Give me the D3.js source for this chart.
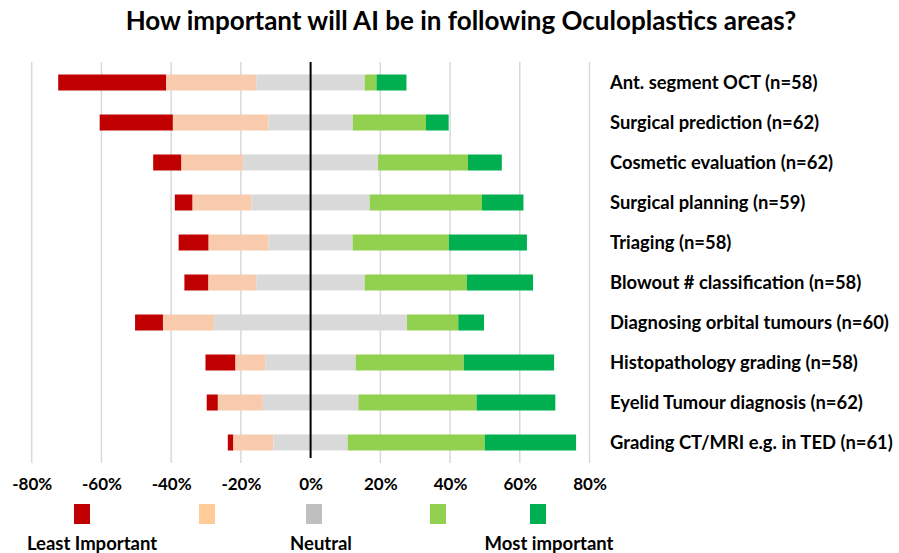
<!DOCTYPE html>
<html><head><meta charset="utf-8">
<script src="https://cdn.jsdelivr.net/npm/d3@7"></script>
<style>body{margin:0;background:#fff}svg{display:block}text{font-family:Lato,"Open Sans",sans-serif;font-weight:bold;fill:#000}</style>
</head><body><svg id="c" width="899" height="553"></svg>
<script>
const title = "How important will AI be in following Oculoplastics areas?";
const categories = ["Ant. segment OCT (n=58)","Surgical prediction (n=62)","Cosmetic evaluation (n=62)","Surgical planning (n=59)","Triaging (n=58)","Blowout # classification (n=58)","Diagnosing orbital tumours (n=60)","Histopathology grading (n=58)","Eyelid Tumour diagnosis (n=62)","Grading CT/MRI e.g. in TED (n=61)"];
const least   = [31.0, 21.0,  8.1,  5.1,  8.6,  6.9,  8.0,  8.6,  3.2,  1.6];
const low     = [25.9, 27.4, 17.7, 16.9, 17.2, 13.8, 14.7,  8.6, 12.9, 11.5];
const neutral = [31.0, 24.2, 38.7, 33.9, 24.1, 31.0, 55.3, 25.9, 27.4, 21.3];
const high    = [ 3.4, 21.0, 25.8, 32.2, 27.6, 29.3, 14.7, 31.0, 33.9, 39.3];
const most    = [ 8.6,  6.5,  9.7, 11.9, 22.4, 19.0,  7.4, 25.9, 22.6, 26.2];
const ticks = [-80,-60,-40,-20,0,20,40,60,80];
const seriesNames = ["Least Important","","Neutral","","Most important"];
const barColors = ["#C00000","#F8CBAD","#D9D9D9","#92D050","#00B050"];
const legendColors = ["#C00000","#FFCC99","#BFBFBF","#92D050","#00B050"];

const svg = d3.select("#c");
const x = d3.scaleLinear().domain([-80,80]).range([31.7,589.5]);
const y = d3.scaleBand().domain(categories).range([62.5,462.5]).paddingInner(0.6).paddingOuter(0.3);

// gridlines
svg.append("g").selectAll("line").data(ticks.filter(t=>t!==0)).join("line")
  .attr("x1",d=>x(d)).attr("x2",d=>x(d)).attr("y1",62).attr("y2",463)
  .attr("stroke","#D9D9D9").attr("stroke-width",1.5);

// stacked segments
const series = [least, low, neutral, high, most];
const rows = categories.map((c,i)=>{
  let start = -(least[i] + low[i] + neutral[i]/2);
  return series.map((s,k)=>{ const seg={cat:c,k,x0:start,x1:start+s[i]}; start+=s[i]; return seg; });
}).flat();
svg.append("g").selectAll("rect").data(rows).join("rect")
  .attr("x",d=>x(d.x0)).attr("width",d=>x(d.x1)-x(d.x0))
  .attr("y",d=>y(d.cat)).attr("height",y.bandwidth())
  .attr("fill",d=>barColors[d.k]);

// zero axis
svg.append("line").attr("x1",x(0)).attr("x2",x(0)).attr("y1",62).attr("y2",458)
  .attr("stroke","#000").attr("stroke-width",2);

// tick labels
const xAxis = d3.axisBottom(x).tickValues(ticks).tickSize(0).tickPadding(0).tickFormat(d=>d+"%");
const gx = svg.append("g").attr("transform","translate(0,478)").call(xAxis);
gx.select(".domain").remove();
gx.selectAll("text").attr("font-size",17).attr("font-family","Lato").attr("font-weight","bold").attr("fill","#000");

// category labels
const lab = svg.append("g").selectAll("text").data(categories).join("text")
  .attr("x",610).attr("y",d=>y(d)+y.bandwidth()/2).attr("dy","0.35em")
  .attr("font-size",16).text(d=>d);
let maxW = 0; lab.each(function(){maxW=Math.max(maxW,this.getComputedTextLength());});
lab.attr("font-size",16*283/maxW);

// title
const t = svg.append("text").attr("x",461).attr("y",30).attr("text-anchor","middle").attr("font-size",22).text(title);
const tw = t.node().getComputedTextLength();
t.attr("font-size",22*671/tw);

// legend
const legX = [74,199,306,430,530];
const legLabelX = [92,0,321,0,549];
const legend = legendColors.map((c,i)=>({c,i,name:seriesNames[i]}));
const lg = svg.append("g").selectAll("g").data(legend).join("g");
lg.append("rect").attr("x",d=>legX[d.i]).attr("y",504).attr("width",16).attr("height",20).attr("fill",d=>d.c);
lg.filter(d=>d.name!=="").append("text")
  .attr("x",d=>legLabelX[d.i]).attr("y",550).attr("text-anchor","middle").attr("font-size",18.5)
  .text(d=>d.name);
</script></body></html>
